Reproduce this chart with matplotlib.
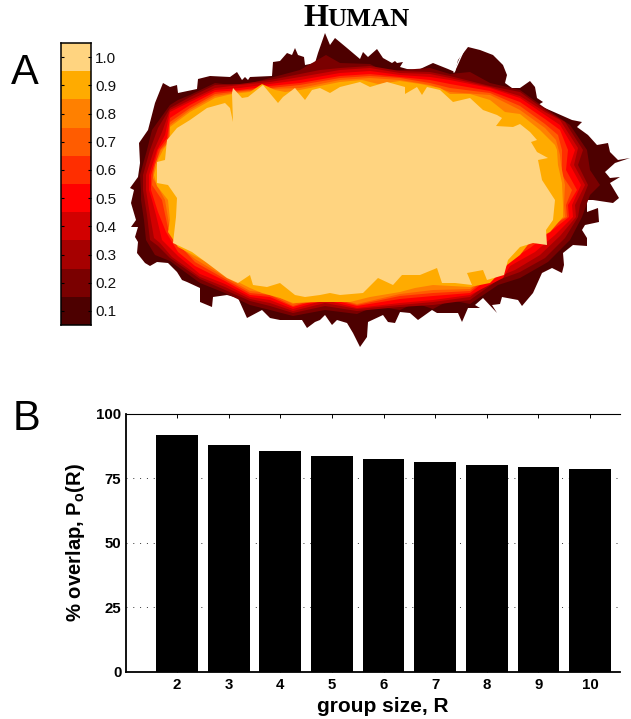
import matplotlib
matplotlib.use("Agg")
import matplotlib.pyplot as plt
import numpy as np
from matplotlib.colors import ListedColormap, BoundaryNorm

plt.rcParams['font.family'] = ['Liberation Sans', 'DejaVu Sans']
plt.rcParams['mathtext.fontset'] = 'custom'
plt.rcParams['mathtext.bf'] = 'Liberation Sans:bold'
plt.rcParams['mathtext.rm'] = 'Liberation Sans'

# ---- data ----
group_size = [2, 3, 4, 5, 6, 7, 8, 9, 10]
overlap = [92, 88, 85.5, 83.5, 82.5, 81.5, 80, 79.5, 78.5]
y_ticks = [0, 25, 50, 75, 100]
cbar_ticks = [0.1, 0.2, 0.3, 0.4, 0.5, 0.6, 0.7, 0.8, 0.9, 1.0]
cbar_edges = [0.05, 0.15, 0.25, 0.35, 0.45, 0.55, 0.65, 0.75, 0.85, 0.95, 1.05]
band_colors = ['#4d0000', '#7a0000', '#a60000', '#d20000', '#ff0000',
               '#ff2e00', '#ff5c00', '#ff8000', '#ffab00', '#ffd480']

# Contour outlines of the overlap map, one per level
level_01 = [(163,83),(170,87),(177,85),(178,93),(197,89),(198,79),(210,76),(230,77),(237,72),(242,80),(245,77),(248,80),(250,77),
    (272,76),(273,62),(280,61),(287,53),(292,55),(295,48),(298,55),(304,57),(305,65),(315,63),(318,53),(325,33),(330,45),(335,38),
    (347,48),(360,59),(363,52),(368,57),(377,49),(383,58),(392,63),(395,61),(397,63),(403,62),(400,67),(407,69),(418,70),(433,63),
    (448,69),(455,72),(458,60),(468,47),(480,50),(493,55),(503,65),(507,75),(505,83),(512,88),(520,88),(530,81),(535,87),(537,98),
    (543,102),(538,105),(572,120),(582,122),(577,127),(588,135),(597,145),(608,143),(610,152),(618,160),(630,158),(615,163),(605,172),
    (610,178),(620,177),(610,183),(619,198),(613,203),(593,200),(587,200),(587,212),(598,208),(599,222),(585,225),(582,230),(587,238),
    (587,246),(573,245),(563,253),(564,265),(562,273),(552,268),(542,273),(533,293),(522,306),(518,300),(502,297),(500,304),(492,305),
    (497,313),(483,298),(475,305),(480,308),(468,308),(462,322),(458,313),(437,313),(432,310),(418,320),(410,313),(400,312),(395,323),
    (388,322),(383,315),(368,322),(367,337),(360,347),(353,333),(347,323),(337,320),(332,325),(325,315),(320,320),(315,322),(307,328),
    (302,320),(293,320),(280,320),(270,318),(262,310),(247,318),(238,298),(227,295),(213,297),(212,307),(200,302),(200,288),(187,282),
    (182,280),(177,272),(168,263),(157,262),(150,266),(145,263),(137,253),(138,242),(135,237),(138,227),(131,227),(136,220),(131,203),
    (134,190),(130,188),(138,177),(140,163),(139,143),(148,130),(155,103)]
level_02 = [(141,190),(140,175),(147,150),(152,130),(170,105),(178,100),(190,95),(215,83),(240,86),(270,78),(285,74),(300,70),(326,55),
    (340,63),(370,64),(385,72),(400,70),(430,68),(450,74),(470,72),(490,83),(520,90),(545,108),(570,125),(587,150),(590,170),(600,185),
    (590,195),(582,217),(570,240),(548,262),(520,278),(498,285),(470,304),(450,300),(433,309),(415,303),(400,310),(375,306),(357,314),
    (325,310),(293,316),(270,310),(250,305),(225,293),(200,283),(170,261),(155,255),(146,240),(144,220),(141,200)]
level_03 = [(143,190),(143,175),(150,150),(158,128),(170,108),(190,97),(215,85),(240,84),(270,80),(300,74),(320,70),(340,68),(370,66),
    (400,71),(430,72),(450,76),(490,86),(520,92),(545,110),(565,122),(583,150),(578,165),(588,185),(580,205),(578,217),(565,238),(545,258),
    (520,272),(498,280),(470,300),(433,305),(400,307),(357,311),(325,306),(293,313),(270,306),(250,301),(225,290),(200,279),(170,258),
    (158,246),(150,240),(147,215)]
level_04 = [(146,190),(146,175),(154,150),(162,132),(170,110),(190,100),(215,88),(240,85),(270,82),(300,77),(340,70),(370,68),(400,73),
    (430,74),(450,78),(490,87),(520,96),(545,112),(560,120),(578,148),(574,165),(585,185),(575,205),(576,217),(560,236),(540,255),(515,270),
    (495,278),(470,297),(433,302),(400,305),(357,309),(325,303),(293,311),(270,303),(250,299),(225,287),(200,277),(172,257),(160,243),
    (154,238),(150,215)]
level_05 = [(149,190),(149,175),(157,150),(165,135),(170,112),(190,102),(215,90),(240,88),(270,84),(300,80),(340,73),(370,71),(400,75),
    (430,77),(450,80),(490,88),(520,98),(545,115),(560,125),(575,150),(570,165),(581,185),(572,205),(573,217),(555,235),(535,252),(510,266),
    (503,278),(470,295),(433,300),(400,303),(357,308),(325,300),(293,309),(270,300),(250,297),(225,284),(200,274),(178,256),(162,240),
    (156,215),(152,200)]
level_06 = [(151,190),(151,175),(158,150),(167,138),(170,118),(190,105),(215,92),(240,90),(270,86),(300,83),(340,76),(370,74),(400,77),
    (430,80),(450,84),(490,91),(520,102),(545,119),(560,130),(568,150),(566,170),(577,190),(568,205),(569,217),(550,232),(530,248),(508,262),
    (490,277),(470,293),(433,296),(400,299),(357,306),(325,298),(293,307),(270,297),(250,295),(225,281),(195,266),(178,252),(166,232),(158,212)]
level_07 = [(152,185),(153,172),(160,150),(168,140),(170,122),(190,108),(215,94),(240,91),(270,88),(300,85),(340,78),(370,76),(400,78),
    (430,83),(450,88),(490,93),(520,106),(545,124),(558,135),(562,150),(562,175),(572,190),(566,205),(567,217),(548,228),(526,243),(508,258),
    (490,275),(470,291),(433,293),(400,296),(357,305),(325,296),(293,306),(270,295),(250,293),(225,279),(195,262),(182,248),(168,228),(162,200)]
level_08 = [(153,178),(155,165),(161,150),(169,142),(170,125),(190,110),(215,96),(240,92),(270,89),(300,88),(340,80),(370,78),(400,80),
    (430,85),(450,92),(490,95),(520,110),(545,128),(556,140),(560,155),(561,165),(563,175),(565,185),(564,205),(565,217),(546,228),(524,240),
    (508,255),(490,272),(470,289),(433,290),(400,294),(357,304),(325,295),(293,304),(270,293),(250,291),(225,277),(195,259),(178,245),
    (170,230),(165,200)]
level_09 = [(154,175),(158,160),(163,150),(170,140),(170,127),(190,112),(215,98),(232,94),(250,92),(262,84),(275,90),(285,92),(300,90),
    (320,86),(340,82),(362,80),(378,84),(400,81),(420,84),(440,88),(450,94),(470,94),(490,100),(505,112),(520,114),(540,130),(555,145),
    (557,150),(558,165),(562,183),(563,205),(563,217),(550,232),(530,242),(520,255),(507,265),(490,283),(470,287),(433,285),(415,288),
    (400,292),(370,297),(350,302),(320,302),(293,303),(280,298),(262,293),(250,288),(240,283),(225,275),(212,265),(195,256),(178,247),
    (168,232),(170,220),(168,200),(157,186)]
level_10 = [(157,170),(157,162),(165,160),(167,140),(177,128),(190,120),(207,108),(225,103),(230,108),(233,122),(232,93),(233,88),(242,98),
    (248,97),(263,85),(278,103),(283,97),(295,88),(305,100),(312,90),(320,88),(330,93),(340,87),(360,82),(370,87),(387,82),(405,87),(405,94),
    (417,87),(422,95),(427,87),(440,90),(453,102),(470,98),(483,110),(497,115),(502,118),(496,126),(513,127),(520,124),(530,132),(537,140),
    (531,142),(537,152),(548,158),(538,160),(542,180),(555,200),(553,220),(546,230),(547,245),(533,243),(520,247),(508,260),(504,275),
    (487,280),(483,270),(467,273),(472,285),(455,283),(442,283),(437,268),(420,275),(402,275),(393,285),(378,278),(363,293),(340,295),
    (330,293),(320,295),(305,297),(295,295),(280,283),(267,287),(253,285),(250,275),(238,283),(227,278),(207,263),(192,252),(173,243),
    (176,217),(177,198),(168,185),(157,183)]
level_outlines = [level_01, level_02, level_03, level_04, level_05,
                  level_06, level_07, level_08, level_09, level_10]

W, H = 631, 719
fig = plt.figure(figsize=(W / 100, H / 100), dpi=100, facecolor='white')

def box(l, t, r, b):
    return [l / W, 1 - b / H, (r - l) / W, (b - t) / H]

# ---- panel A map ----
ax_map = fig.add_axes([0, 0, 1, 1], zorder=0)
ax_map.set_xlim(0, W)
ax_map.set_ylim(H, 0)
ax_map.axis('off')
for outline, colour in zip(level_outlines, band_colors):
    xs, ys = zip(*outline)
    ax_map.fill(xs, ys, facecolor=colour, edgecolor='none', antialiased=True)
ax_map.plot([454, 463], [72, 52], color='white', lw=0.9)

# ---- colourbar ----
ax_cb = fig.add_axes(box(61, 43, 91, 325), zorder=2)
cmap = ListedColormap(band_colors)
norm = BoundaryNorm(cbar_edges, cmap.N)
ax_cb.pcolormesh([0, 1], cbar_edges, np.array(cbar_ticks)[:, None], cmap=cmap, norm=norm)
ax_cb.set_xticks([])
ax_cb.set_yticks(cbar_ticks, [f'{t:.1f}' for t in cbar_ticks], fontsize=11, color='#111111')
ax_cb.yaxis.tick_right()
ax_cb.tick_params(axis='y', direction='in', length=2.5, width=0.8, pad=3, right=True, left=True)
for s in ax_cb.spines.values():
    s.set_linewidth(1.1)

# ---- titles / panel letters ----
fig.text(303 / W, 1 - 26.5 / H, 'H', family=['Liberation Serif'], weight='bold', fontsize=23, ha='left', va='baseline')
fig.text(327 / W, 1 - 26.5 / H, 'UMAN', family=['Liberation Serif'], weight='bold',
         fontsize=19, ha='left', va='baseline')
fig.text(11 / W, 1 - 84 / H, 'A', fontsize=30, ha='left', va='baseline')
fig.text(13 / W, 1 - 430 / H, 'B', fontsize=30, ha='left', va='baseline')

# ---- panel B bars ----
ax = fig.add_axes(box(125.5, 414, 620, 671.5), zorder=2)
ax.set_xlim(1.0, 10.58)
ax.set_ylim(0, 100)
ax.bar(group_size, overlap, width=0.81, color='black', zorder=3)
ax.set_axisbelow(True)
ax.yaxis.grid(True, color='#333333', lw=0.7, linestyle=(0, (1, 6)))
ax.set_xticks(group_size, [str(g) for g in group_size], fontsize=10.8, weight='bold')
ax.set_yticks(y_ticks, [str(t) for t in y_ticks], fontsize=10.8, weight='bold')
ax.tick_params(axis='y', direction='in', length=0, pad=3)
ax.tick_params(axis='x', direction='in', top=True, length=3, width=0.7, pad=5)
ax.spines['right'].set_visible(False)
ax.spines['top'].set_linewidth(0.8)
ax.spines['left'].set_linewidth(1.3)
ax.spines['bottom'].set_linewidth(1.3)
ax.set_xlabel('group size, R', fontsize=15, weight='bold')
ax.xaxis.set_label_coords((383 - 125.5) / (620 - 125.5), -0.098)
ax.set_ylabel(r'% overlap, P$\mathbf{_{o}}$(R)', fontsize=14.6, weight='bold')
ax.yaxis.set_label_coords(-0.078, 0.5)

fig.savefig('out.png', dpi=100)
